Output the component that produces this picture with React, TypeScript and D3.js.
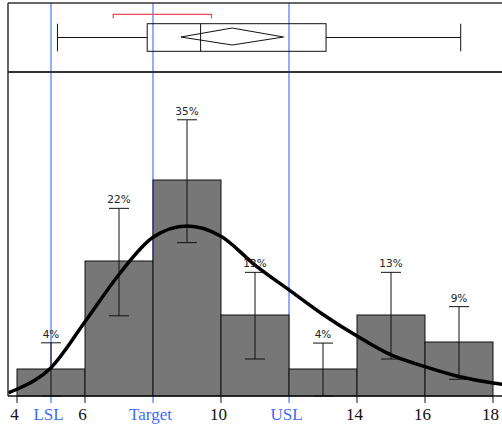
import React from "react";
import * as d3 from "d3";

// histogram bins (left edge), counts per bin and error bar extents (counts)
const binStarts = [4, 6, 8, 10, 12, 14, 16];
const binWidth = 2;
const counts = [1, 5, 8, 3, 1, 3, 2];
const errLow = [0, 2.97, 5.68, 1.37, 0, 1.37, 0.62];
const errHigh = [1.97, 6.95, 10.23, 4.58, 1.96, 4.58, 3.31];

// fitted density curve (value, count)
const curveX = [3.74, 4, 5, 6, 7, 8, 9, 10, 11, 12, 13, 14, 15, 16, 17, 18, 18.3];
const curveY = [0.12, 0.25, 1.05, 2.75, 4.5, 5.88, 6.3, 5.92, 4.85, 3.93, 3.02, 2.22, 1.52, 1.09, 0.72, 0.48, 0.43];

// outlier box plot stats
const whiskerLow = 5.19;
const q1 = 7.83;
const median = 9.4;
const q3 = 13.09;
const whiskerHigh = 17.05;
const mean = 10.33;
const meanCiLow = 8.82;
const meanCiHigh = 11.84;
const shortestHalf = [6.83, 9.72];

// spec limits and plain ticks
const specLabels = ["LSL", "Target", "USL"];
const specValues = [5, 8, 12];
const axisTicks = [4, 6, 10, 14, 16, 18];

const W = 502;
const H = 428;
const frameLeft = 8;
const frameTop = 3;
const divider = 72;
const base = 396;

export default function App() {
  const x = d3.scaleLinear().domain([4, 18]).range([17, 493]);
  const y = d3.scaleLinear().domain([0, 12]).range([base, divider]);
  const total = d3.sum(counts);

  const line = d3
    .line<number>()
    .x((_, i) => x(curveX[i]))
    .y((d) => y(d))
    .curve(d3.curveMonotoneX);

  const boxTop = 23.7;
  const boxBottom = 51.3;
  const boxMid = (boxTop + boxBottom) / 2;
  const blue = "#4677ff";

  return (
    <svg
      width={W}
      height={H}
      style={{ position: "absolute", left: 0, top: 0, background: "#fff" }}
    >
      <defs>
        <clipPath id="plot">
          <rect x={frameLeft} y={divider} width={W - frameLeft} height={base - divider} />
        </clipPath>
      </defs>

      {/* spec lines behind everything */}
      {specValues.map((v, i) => (
        <line
          key={specLabels[i]}
          x1={x(v)}
          x2={x(v)}
          y1={frameTop}
          y2={base + 7}
          stroke={blue}
          strokeWidth={1.2}
        />
      ))}

      {/* histogram bars */}
      {counts.map((c, i) => (
        <rect
          key={i}
          x={x(binStarts[i])}
          y={y(c)}
          width={x(binStarts[i] + binWidth) - x(binStarts[i])}
          height={y(0) - y(c)}
          fill="#777777"
          stroke="#111"
          strokeWidth={1}
        />
      ))}

      {/* error bars */}
      {counts.map((c, i) => {
        const cx = x(binStarts[i] + binWidth / 2);
        return (
          <g key={i} stroke="#111" strokeWidth={1}>
            <line x1={cx} x2={cx} y1={y(errLow[i])} y2={y(errHigh[i])} />
            <line x1={cx - 10} x2={cx + 10} y1={y(errHigh[i])} y2={y(errHigh[i])} />
            <line x1={cx - 10} x2={cx + 10} y1={y(errLow[i])} y2={y(errLow[i])} />
          </g>
        );
      })}

      {/* density curve */}
      <path
        d={line(curveY) ?? ""}
        fill="none"
        stroke="#000"
        strokeWidth={3.5}
        clipPath="url(#plot)"
      />

      {/* percent labels */}
      {counts.map((c, i) => (
        <text
          key={i}
          x={x(binStarts[i] + binWidth / 2)}
          y={y(errHigh[i]) - 5}
          textAnchor="middle"
          fontFamily="DejaVu Sans, sans-serif"
          fontSize={10.5}
          fill="#222"
        >
          {Math.round((c / total) * 100)}%
        </text>
      ))}

      {/* box plot */}
      <g stroke="#111" strokeWidth={1} fill="none">
        <line x1={x(whiskerLow)} x2={x(q1)} y1={boxMid} y2={boxMid} />
        <line x1={x(q3)} x2={x(whiskerHigh)} y1={boxMid} y2={boxMid} />
        <line x1={x(whiskerLow)} x2={x(whiskerLow)} y1={boxTop} y2={boxBottom} />
        <line x1={x(whiskerHigh)} x2={x(whiskerHigh)} y1={boxTop} y2={boxBottom} />
        <rect x={x(q1)} y={boxTop} width={x(q3) - x(q1)} height={boxBottom - boxTop} />
        <line x1={x(median)} x2={x(median)} y1={boxTop} y2={boxBottom} />
        <path
          d={`M${x(meanCiLow)},${boxMid - 0.5} L${x(mean)},28 L${x(meanCiHigh)},${boxMid - 0.5} L${x(mean)},45 Z`}
        />
      </g>
      <path
        d={`M${x(shortestHalf[0])},18.5 V14.3 H${x(shortestHalf[1])} V18.5`}
        fill="none"
        stroke="#f0465a"
        strokeWidth={1.2}
      />

      {/* frame */}
      <g stroke="#333" fill="none">
        <line x1={frameLeft} x2={W} y1={frameTop} y2={frameTop} strokeWidth={1.5} />
        <line x1={frameLeft} x2={frameLeft} y1={frameTop} y2={base} strokeWidth={1.5} />
        <line x1={frameLeft} x2={W} y1={divider} y2={divider} strokeWidth={1.8} />
        <line x1={frameLeft} x2={W} y1={base} y2={base} strokeWidth={1.5} stroke="#111" />
      </g>

      {/* x axis */}
      {axisTicks.map((t) => (
        <g key={t}>
          <line x1={x(t)} x2={x(t)} y1={base} y2={base + 7} stroke="#111" />
          <text
            x={x(t) - 2.5}
            y={420}
            textAnchor="middle"
            fontFamily="Liberation Serif, Times New Roman, serif"
            fontSize={17}
            fill="#111"
          >
            {t}
          </text>
        </g>
      ))}
      {specValues.map((v, i) => (
        <text
          key={specLabels[i]}
          x={x(v) - 2.5}
          y={420}
          textAnchor="middle"
          fontFamily="Liberation Serif, Times New Roman, serif"
          fontSize={17}
          fill="#3d6cf5"
        >
          {specLabels[i]}
        </text>
      ))}
    </svg>
  );
}
